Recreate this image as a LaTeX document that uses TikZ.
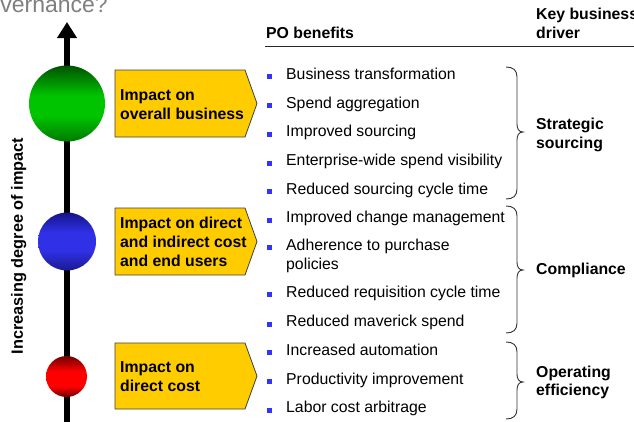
\documentclass[tikz,border=0pt]{standalone}
\usepackage{fontspec}
\setmainfont{Liberation Sans}
\usetikzlibrary{arrows.meta}
\definecolor{boxgold}{HTML}{FFCC00}
\definecolor{boxedge}{HTML}{404040}
\definecolor{bulletblue}{HTML}{3333FF}
\definecolor{titlegrey}{HTML}{7F7F7F}
\definecolor{gbA}{HTML}{007A00}
\definecolor{gbB}{HTML}{00C400}
\definecolor{gbC}{HTML}{005200}
\definecolor{bbA}{HTML}{1A1A90}
\definecolor{bbB}{HTML}{3030E6}
\definecolor{bbC}{HTML}{14148A}
\definecolor{rbA}{HTML}{6A0000}
\definecolor{rbB}{HTML}{FF0000}
\definecolor{rbC}{HTML}{700000}
\pgfdeclareverticalshading{greenball}{100bp}{color(0bp)=(gbA); color(25bp)=(gbA); color(42bp)=(gbB); color(55bp)=(gbB); color(75bp)=(gbC); color(100bp)=(gbC)}
\pgfdeclareverticalshading{blueball}{100bp}{color(0bp)=(bbA); color(25bp)=(bbA); color(42bp)=(bbB); color(58bp)=(bbB); color(75bp)=(bbC); color(100bp)=(bbC)}
\pgfdeclareverticalshading{redball}{100bp}{color(0bp)=(rbA); color(25bp)=(rbA); color(38bp)=(rbB); color(56bp)=(rbB); color(75bp)=(rbC); color(100bp)=(rbC)}
\newcommand\mybrace[4]{%
  \draw[bracestyle] (#1,#2) .. controls ({#1+7},#2) and ({#1+11},{#2+3}) .. ({#1+11},{#2+10})
    -- ({#1+11},{#3-8}) .. controls ({#1+11},{#3-3}) and ({#1+13},#3) .. ({#1+17},#3)
    .. controls ({#1+13},#3) and ({#1+11},{#3+3}) .. ({#1+11},{#3+8})
    -- ({#1+11},{#4-10}) .. controls ({#1+11},{#4-3}) and ({#1+7},#4) .. (#1,#4);}
\newcommand\pentbox[4]{% name, top, bottom, center
  \draw[boxshape] (115,#2) -- (245,#2) -- (257,#4) -- (245,#3) -- (115,#3) -- cycle;}
\newcommand\bul[1]{\fill[bulletblue] (266.5,{#1-5}) rectangle (271.5,#1);}
\tikzset{
  txt/.style={font=\fontsize{15.8}{19}\selectfont, inner sep=0pt, align=left, text=black},
  btxt/.style={font=\fontsize{15.8}{19}\selectfont\bfseries, inner sep=0pt, align=left, text=black},
  boxshape/.style={fill=boxgold, draw=boxedge, line width=0.8pt},
  bracestyle/.style={draw=black!80, line width=0.9pt},
}
\begin{document}
\begin{tikzpicture}[x=1pt,y=-1pt]
\useasboundingbox (0,0) rectangle (634,421);
\begin{scope}
\clip (0,0) rectangle (634,421);
% title fragment
\node[font=\fontsize{23}{26}\selectfont, text=titlegrey, inner sep=0pt, anchor=base east] (title) at (108,12) {vernance?};
% axis arrow
\coordinate (abot) at (67,425);
\coordinate (atop) at (67,22);
\draw[line width=6pt, -{Triangle[length=16pt,width=19pt]}] (abot) -- (atop);
% circles
\shade[shading=greenball] (67,103.5) circle (38);
\shade[shading=blueball] (67,241.5) circle (29);
\shade[shading=redball] (66.5,376.5) circle (20.5);
% vertical label
\node[btxt, font=\fontsize{16.3}{19}\selectfont\bfseries, rotate=90, anchor=base] (vlabel) at (23,246) {Increasing degree of impact};
% boxes
\pentbox{b1}{70}{137}{103.5}
\pentbox{b2}{208}{275}{241.5}
\pentbox{b3}{343}{409}{376}
\node[btxt, anchor=base west] (b1a) at (120,100) {Impact on};
\node[btxt, anchor=base west] (b1b) at (120,119) {overall business};
\node[btxt, anchor=base west] (b2a) at (120,228.3) {Impact on direct};
\node[btxt, anchor=base west] (b2b) at (120,247.5) {and indirect cost};
\node[btxt, anchor=base west] (b2c) at (120,266.5) {and end users};
\node[btxt, anchor=base west] (b3a) at (120,372.7) {Impact on};
\node[btxt, anchor=base west] (b3b) at (120,391.7) {direct cost};
% headers
\node[btxt, anchor=base west] (h1) at (266,38.3) {PO benefits};
\node[btxt, anchor=base west] (h2) at (536,19.3) {Key business};
\node[btxt, anchor=base west] (h2b) at (536,38.3) {driver};
\draw[line width=1pt, black!85] (265,46.7) -- (634,46.7);
% items
\foreach \yy/\tt [count=\i] in {79.3/Business transformation, 108.3/Spend aggregation, 136.7/Improved sourcing, 165.7/Enterprise-wide spend visibility, 194/Reduced sourcing cycle time, 222.7/Improved change management, 250/Adherence to purchase, 297.3/Reduced requisition cycle time, 326.7/Reduced maverick spend, 355/Increased automation, 384/Productivity improvement, 412.7/Labor cost arbitrage}{
  \bul{\yy}
  \node[txt, anchor=base west] (item\i) at (286,\yy) {\tt};
}
\node[txt, anchor=base west] (item7b) at (286,269.3) {policies};
% braces
\mybrace{506}{67}{132}{199}
\mybrace{506}{206}{270}{333}
\mybrace{506}{342}{382}{419}
% driver labels
\node[btxt, anchor=base west] (d1a) at (536,129.5) {Strategic};
\node[btxt, anchor=base west] (d1b) at (536,148) {sourcing};
\node[btxt, anchor=base west] (d2) at (536,274.5) {Compliance};
\node[btxt, anchor=base west] (d3a) at (536,377.7) {Operating};
\node[btxt, anchor=base west] (d3b) at (536,395.7) {efficiency};
\end{scope}
\end{tikzpicture}
\end{document}
